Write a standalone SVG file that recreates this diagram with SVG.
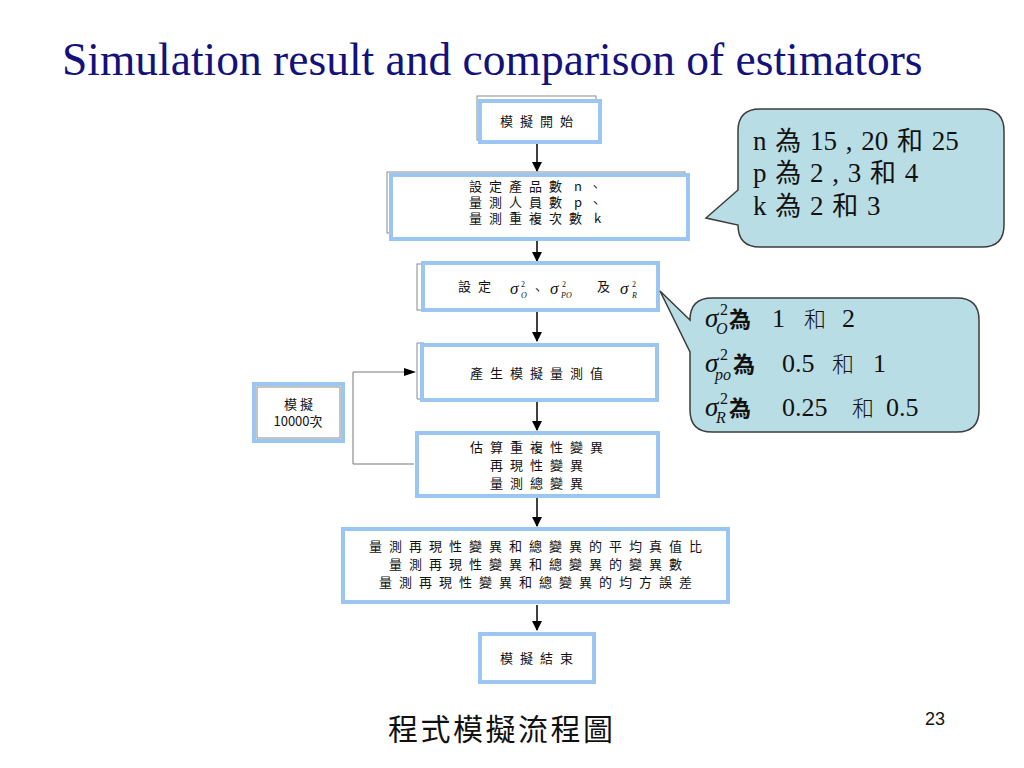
<svg xmlns="http://www.w3.org/2000/svg" width="1024" height="768" viewBox="0 0 1024 768">
<style>
.bx{fill:#ffffff;stroke:#9cc6f2;stroke-width:4}
.gf{fill:none;stroke:#8a8a8a;stroke-width:1}
.ft{font-family:"Noto Sans CJK TC","Noto Sans CJK SC",sans-serif;font-size:13px;letter-spacing:7px;fill:#111}
.mid{text-anchor:middle}
.rm{font-family:"Liberation Serif","Times New Roman",serif;fill:#111}
.sg{font-family:"Liberation Serif","Times New Roman",serif;font-style:italic;fill:#111}
.co{fill:#b9dde4;stroke:#3c3c3c;stroke-width:1.5}
.ct{font-family:"Liberation Serif","Times New Roman","Noto Sans CJK TC",serif;font-size:27px;word-spacing:2px;fill:#111}
.cj{font-family:"Noto Sans CJK TC","Noto Sans CJK SC",sans-serif;fill:#111}
.ln{stroke:#000;stroke-width:1.5;fill:none}
.lg{stroke:#777;stroke-width:1;fill:none}
</style>
<defs>
<marker id="ah" markerWidth="10" markerHeight="10" refX="9" refY="5" orient="auto" markerUnits="userSpaceOnUse">
<path d="M0,0 L10,5 L0,10 Z" fill="#000"/>
</marker>
</defs>
<rect width="1024" height="768" fill="#ffffff"/>
<text class="rm" x="62" y="75" font-size="45.5" style="fill:#12127a">Simulation result and comparison of estimators</text>

<g id="connectors">
<line class="ln" x1="537" y1="144" x2="537" y2="171" marker-end="url(#ah)"/>
<line class="ln" x1="537" y1="241" x2="537" y2="261" marker-end="url(#ah)"/>
<line class="ln" x1="537" y1="312" x2="537" y2="341" marker-end="url(#ah)"/>
<line class="ln" x1="537" y1="402" x2="537" y2="430" marker-end="url(#ah)"/>
<line class="ln" x1="537" y1="498" x2="537" y2="526" marker-end="url(#ah)"/>
<line class="ln" x1="537" y1="605" x2="537" y2="630" marker-end="url(#ah)"/>
<polyline class="lg" points="414,464 353,464 353,372 412,372"/>
<path d="M404,368 L416,372 L404,376 Z" fill="#000"/>
</g>

<g id="start">
<rect class="gf" x="477" y="96" width="119" height="44"/>
<rect class="bx" x="480" y="101" width="120" height="41"/>
<text class="ft mid" x="540" y="126">模擬開始</text>
</g>

<g id="set-nkp">
<rect class="gf" x="387" y="172" width="298" height="61"/>
<rect class="bx" x="391" y="175" width="297" height="64"/>
<text class="ft" x="469" y="191" style="word-spacing:-5px">設定產品數 n、</text>
<text class="ft" x="469" y="207" style="word-spacing:-5px">量測人員數 p、</text>
<text class="ft" x="469" y="223" style="word-spacing:-5px">量測重複次數 k</text>
</g>

<g id="set-sigma">
<rect class="gf" x="417" y="264" width="238" height="46"/>
<rect class="bx" x="423" y="263" width="235" height="47"/>
<text class="ft" x="458" y="291">設定</text>
<text class="sg" font-size="17" x="510" y="294">σ</text>
<text class="sg" font-size="8" x="521" y="298">O</text>
<text class="rm" font-size="8" x="521" y="287">2</text>
<text class="ft" x="531" y="294">、</text>
<text class="sg" font-size="17" x="550" y="294">σ</text>
<text class="sg" font-size="8" x="561" y="298">PO</text>
<text class="rm" font-size="8" x="562" y="287">2</text>
<text class="ft" x="597" y="291">及</text>
<text class="sg" font-size="17" x="620" y="294">σ</text>
<text class="sg" font-size="8" x="632" y="298">R</text>
<text class="rm" font-size="8" x="632" y="287">2</text>
</g>

<g id="generate">
<line class="gf" x1="417" y1="343" x2="417" y2="399"/>
<line class="gf" x1="417" y1="343" x2="424" y2="343"/>
<line class="gf" x1="417" y1="399" x2="424" y2="399"/>
<rect class="bx" x="422" y="345" width="235" height="55"/>
<text class="ft mid" x="540" y="378">產生模擬量測值</text>
</g>

<g id="loop">
<rect class="bx" x="254" y="384" width="89" height="57"/>
<rect class="gf" x="257" y="387" width="83" height="51"/>
<text class="ft mid" x="300" y="409" style="letter-spacing:3px">模擬</text>
<text class="ft mid" x="298" y="426" style="letter-spacing:0px">10000次</text>
</g>

<g id="estimate">
<rect class="bx" x="417" y="433" width="241" height="63"/>
<text class="ft mid" x="540" y="452">估算重複性變異</text>
<text class="ft mid" x="540" y="470">再現性變異</text>
<text class="ft mid" x="540" y="488">量測總變異</text>
</g>

<g id="compare">
<line class="gf" x1="725" y1="528" x2="725" y2="600"/>
<rect class="bx" x="343" y="529" width="385" height="73"/>
<text class="ft mid" x="539" y="551">量測再現性變異和總變異的平均真值比</text>
<text class="ft mid" x="539" y="569">量測再現性變異和總變異的變異數</text>
<text class="ft mid" x="539" y="587">量測再現性變異和總變異的均方誤差</text>
</g>

<g id="end">
<rect class="bx" x="480" y="634" width="114" height="48"/>
<text class="ft mid" x="540" y="663">模擬結束</text>
</g>

<g id="callout-params">
<path class="co" d="M760,109 H982 Q1004,109 1004,131 V225 Q1004,247 982,247 H760 Q738,247 738,225 L706,218 L738,190 V131 Q738,109 760,109 Z"/>
<text class="ct" x="753" y="150">n <tspan class="cj" font-size="26">為</tspan> 15 , 20 <tspan class="cj" font-size="26">和</tspan> 25</text>
<text class="ct" x="753" y="182">p <tspan class="cj" font-size="26">為</tspan> 2 , 3 <tspan class="cj" font-size="26">和</tspan> 4</text>
<text class="ct" x="753" y="215">k <tspan class="cj" font-size="26">為</tspan> 2 <tspan class="cj" font-size="26">和</tspan> 3</text>
</g>

<g id="callout-sigma">
<path class="co" d="M712,298 H957 Q979,298 979,320 V410 Q979,432 957,432 H712 Q690,432 690,410 V352 L660,291 L690,320 Q690,298 712,298 Z"/>
<text class="sg" font-size="27" x="705" y="327">σ</text>
<text class="rm" font-size="16" x="720" y="315">2</text>
<text class="sg" font-size="16" x="716" y="334">O</text>
<text class="cj" font-weight="bold" font-size="22" x="729" y="327">為</text>
<text class="rm" font-size="26" x="772" y="327">1</text>
<text class="cj" font-weight="300" font-size="22" x="804" y="327">和</text>
<text class="rm" font-size="26" x="842" y="327">2</text>

<text class="sg" font-size="27" x="705" y="372">σ</text>
<text class="rm" font-size="16" x="720" y="360">2</text>
<text class="sg" font-size="16" x="715" y="380">po</text>
<text class="cj" font-weight="bold" font-size="22" x="733" y="372">為</text>
<text class="rm" font-size="26" x="782" y="372">0.5</text>
<text class="cj" font-weight="300" font-size="22" x="832" y="372">和</text>
<text class="rm" font-size="26" x="873" y="372">1</text>

<text class="sg" font-size="27" x="705" y="416">σ</text>
<text class="rm" font-size="16" x="720" y="404">2</text>
<text class="sg" font-size="16" x="716" y="423">R</text>
<text class="cj" font-weight="bold" font-size="22" x="729" y="416">為</text>
<text class="rm" font-size="26" x="782" y="416">0.25</text>
<text class="cj" font-weight="300" font-size="22" x="852" y="416">和</text>
<text class="rm" font-size="26" x="886" y="416">0.5</text>
</g>

<text class="cj" x="388" y="740" font-size="30" letter-spacing="2.5">程式模擬流程圖</text>
<text x="925" y="725" font-family="Liberation Sans,Arial,sans-serif" font-size="18" fill="#111">23</text>
</svg>
